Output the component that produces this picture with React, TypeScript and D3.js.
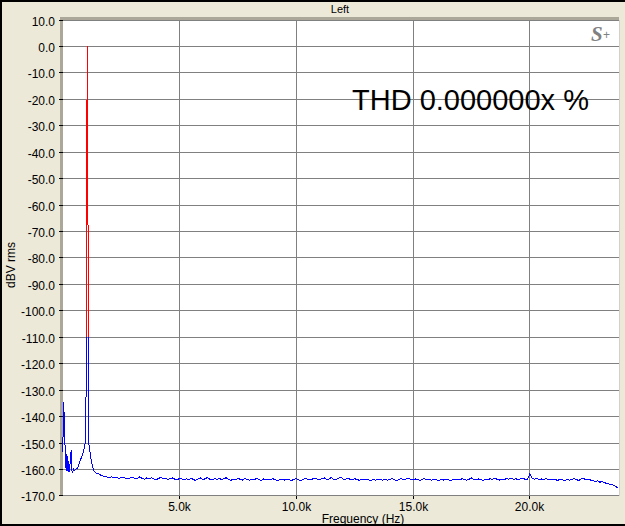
import React from 'react';
import * as d3 from 'd3';

const W = 625;
const H = 526;

// ---- axis ticks ----
const xTickValues = [5000, 10000, 15000, 20000];
const xTickLabels = ['5.0k', '10.0k', '15.0k', '20.0k'];
const yTickValues = [10, 0, -10, -20, -30, -40, -50, -60, -70, -80, -90, -100, -110, -120, -130, -140, -150, -160, -170];
const yTickLabels = ['10.0', '0.0', '-10.0', '-20.0', '-30.0', '-40.0', '-50.0', '-60.0', '-70.0', '-80.0', '-90.0', '-100.0', '-110.0', '-120.0', '-130.0', '-140.0', '-150.0', '-160.0', '-170.0'];

// ---- spectrum: low-frequency part (blue) ----
const lowFreqHz = [0, 43, 86, 120, 150, 180, 210, 240, 270, 300, 330, 365, 395, 430, 470, 510, 550, 600, 640, 700, 750, 800, 850, 890, 930, 965, 990, 1000, 1008];
const lowDb = [-153.5, -134.5, -147, -157, -160.5, -154, -160.5, -157, -161, -160, -155, -152.8, -160.5, -161, -160, -160.5, -160, -159.5, -159.5, -158, -156.6, -155.5, -154.5, -153, -151.5, -150, -147, -130, -110];

// ---- fundamental (red) ----
const peakFreqHz = [1008, 1012, 1053, 1075, 1090, 1098];
const peakDb = [-110, -73, 0, -60, -73, -110];

// ---- right skirt of fundamental (blue) ----
const skirtFreqHz = [1098, 1105, 1115, 1140, 1180, 1230, 1280, 1330, 1400, 1480, 1560, 1640, 1700];
const skirtDb = [-110, -140, -150, -152, -154, -157, -159, -160.5, -161.2, -161.5, -161.8, -162.2, -162.4];

// ---- noise floor (blue), 1800 Hz onwards every 100 Hz ----
const noiseStartHz = 1800;
const noiseStepHz = 100;
const noiseDb = [
  -162.6, -162.9, -163.1, -162.8, -163.2, -163.0, -163.4, -163.1, -162.9, -163.3,
  -163.5, -163.2, -163.0, -163.6, -163.3, -162.8, -163.4, -163.7, -163.2, -163.5,
  -163.1, -163.6, -163.9, -163.4, -163.0, -163.6, -163.3, -163.8, -163.5, -163.2,
  -163.7, -163.9, -163.4, -163.6, -164.0, -163.5, -163.8, -163.3, -163.9, -164.1,
  -163.6, -163.2, -163.9, -163.5, -163.0, -163.7, -164.0, -163.4, -163.8, -163.3,
  -163.9, -163.5, -163.1, -163.8, -164.1, -163.6, -163.9, -163.4, -163.7, -164.0,
  -163.5, -163.8, -164.1, -163.7, -163.9, -163.4, -163.8, -164.2, -163.6, -163.9,
  -164.0, -163.7, -163.5, -163.9, -164.2, -163.8, -163.6, -164.0, -163.7, -163.9,
  -164.1, -163.8, -163.5, -163.9, -164.2, -163.7, -163.4, -163.8, -164.0, -163.6,
  -163.3, -163.7, -163.9, -163.5, -163.2, -163.8, -163.6, -163.0, -163.7, -163.9,
  -163.4, -162.9, -163.6, -163.8, -163.3, -163.7, -164.0, -163.5, -163.8, -164.1,
  -163.7, -164.0, -163.6, -163.9, -164.2, -163.8, -164.1, -163.6, -163.9, -164.0,
  -163.7, -164.1, -163.8, -163.5, -163.9, -164.2, -163.7, -163.4, -163.9, -163.6,
  -163.3, -163.8, -164.0, -163.6, -163.9, -164.1, -163.7, -163.5, -164.0, -163.8,
  -164.1, -163.7, -163.9, -164.2, -163.8, -164.0, -163.6, -163.9, -164.2, -163.8,
  -164.0, -163.7, -163.9, -163.5, -163.8, -164.1, -163.7, -163.2, -163.8, -164.0,
  -163.6, -163.9, -164.1, -163.7, -163.9, -163.5, -163.8, -163.3, -163.7, -164.0,
  -163.6, -163.9, -163.4, -163.7, -163.2, -163.8, -163.5, -163.9, -163.6, -163.4,
  -163.7, -163.8, -161.6, -163.2, -163.7, -163.4, -163.9, -163.6, -163.8, -163.5,
  -163.8, -164.0, -163.6, -163.9, -164.1, -163.7, -163.9, -164.2, -163.8, -164.0,
  -163.7, -163.5, -163.9, -164.1, -163.6, -163.4, -163.9, -163.7, -164.0, -164.2,
  -164.5, -164.3, -164.8, -164.6, -165.0, -165.3, -165.5, -165.7, -166.0, -166.5,
  -167.1,
];

const FONT = '"Liberation Sans", Arial, sans-serif';
const BG = '#ECE9D8';
const FRAME = '#ACA899';
const GRID = '#808080';

export default function App() {
  const x = d3.scaleLinear().domain([0, 23840]).range([62.7, 619.5]);
  const y = d3.scaleLinear().domain([10, -170]).range([20.06, 495.9]);

  const px = (v: number) => Math.floor(x(v)) + 0.5;
  const py = (v: number) => Math.floor(y(v)) + 0.5;

  const line = d3
    .line<[number, number]>()
    .x((d) => x(d[0]))
    .y((d) => y(d[1]));

  const lowPts: [number, number][] = lowFreqHz.map((f, i) => [f, lowDb[i]]);
  const peakPts: [number, number][] = peakFreqHz.map((f, i) => [f, peakDb[i]]);
  const rightPts: [number, number][] = [
    ...skirtFreqHz.map((f, i) => [f, skirtDb[i]] as [number, number]),
    ...noiseDb.map((v, i) => [Math.min(noiseStartHz + i * noiseStepHz, 23780), v] as [number, number]),
  ];

  const plotL = 63;
  const plotR = 619;
  const plotT = 20;
  const plotB = 496;

  return (
    <svg
      width={W}
      height={H}
      style={{ position: 'fixed', left: 0, top: 0, display: 'block' }}
      xmlns="http://www.w3.org/2000/svg"
    >
      <rect x={0} y={0} width={W} height={H} fill={BG} />
      {/* window border */}
      <rect x={0} y={0} width={W} height={2} fill="#000" />
      <rect x={0} y={0} width={2} height={H} fill="#000" />
      <rect x={0} y={H - 2} width={W} height={2} fill="#000" />

      {/* title */}
      <text x={340} y={13} textAnchor="middle" fontFamily={FONT} fontSize={11} fill="#000">
        Left
      </text>

      {/* plot area */}
      <rect x={plotL} y={plotT} width={plotR - plotL} height={plotB - plotT} fill="#fff" />
      <rect x={60} y={17} width={plotR - 60} height={3} fill={FRAME} />
      <rect x={60} y={17} width={3} height={plotB - 17} fill={FRAME} />
      <line x1={plotR + 0.5} x2={plotR + 0.5} y1={plotT} y2={plotB} stroke="#D4D0C8" />

      {/* grid */}
      {yTickValues.map((v) => (
        <line key={'gy' + v} x1={plotL} x2={plotR} y1={py(v)} y2={py(v)} stroke={GRID} strokeWidth={1} />
      ))}
      {xTickValues.map((v) => (
        <line key={'gx' + v} x1={px(v)} x2={px(v)} y1={plotT} y2={plotB + 3} stroke={GRID} strokeWidth={1} />
      ))}

      {/* ticks */}
      {yTickValues.map((v) => (
        <line key={'ty' + v} x1={59} x2={63} y1={py(v)} y2={py(v)} stroke="#000" strokeWidth={1} />
      ))}
      {xTickValues.map((v) => (
        <line key={'tx' + v} x1={px(v)} x2={px(v)} y1={plotB} y2={plotB + 3} stroke="#000" strokeWidth={1} />
      ))}

      {/* tick labels */}
      {yTickValues.map((v, i) => (
        <text
          key={'ly' + v}
          x={55}
          y={py(v) + 5}
          textAnchor="end"
          fontFamily={FONT}
          fontSize={12}
          fill="#000"
        >
          {yTickLabels[i]}
        </text>
      ))}
      {xTickValues.map((v, i) => (
        <text key={'lx' + v} x={px(v)} y={511} textAnchor="middle" fontFamily={FONT} fontSize={12} fill="#000">
          {xTickLabels[i]}
        </text>
      ))}

      {/* axis titles */}
      <text x={363} y={523} textAnchor="middle" fontFamily={FONT} fontSize={12} fill="#000">
        Frequency (Hz)
      </text>
      <text
        transform="translate(15,265) rotate(-90)"
        textAnchor="middle"
        fontFamily={FONT}
        fontSize={12}
        fill="#000"
      >
        dBV rms
      </text>

      {/* data */}
      <g shapeRendering="crispEdges">
        <path d={line(lowPts) || ''} fill="none" stroke="#0000FF" strokeWidth={1} />
        <path d={line(rightPts) || ''} fill="none" stroke="#0000FF" strokeWidth={1} />
        <path d={line(peakPts) || ''} fill="none" stroke="#FF0000" strokeWidth={1} />
      </g>

      {/* THD annotation */}
      <text x={352} y={110} fontFamily={FONT} fontSize={29} fill="#000">
        THD 0.000000x %
      </text>

      {/* S+ logo */}
      <text
        x={591}
        y={41}
        fontFamily='"Liberation Serif", "DejaVu Serif", serif'
        fontStyle="italic"
        fontWeight="bold"
        fontSize={21}
        fill="#808080"
      >
        S
      </text>
      <text x={603} y={39} fontFamily={FONT} fontSize={12} fill="#808080">
        +
      </text>
    </svg>
  );
}
